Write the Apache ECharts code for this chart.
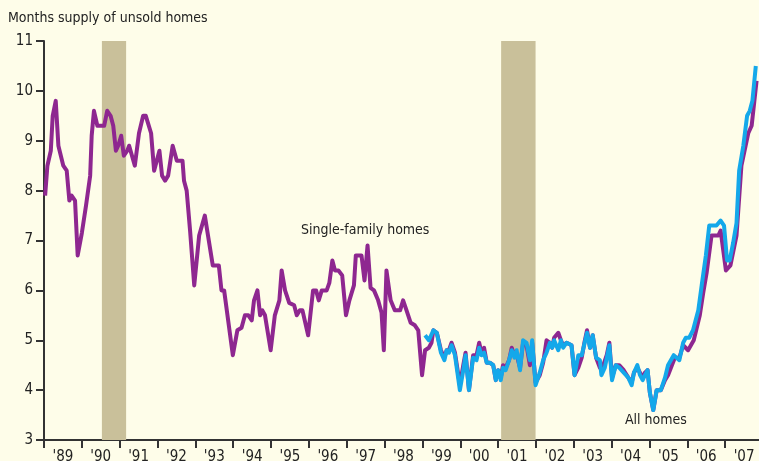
<!DOCTYPE html>
<html><head><meta charset="utf-8">
<script src="https://cdn.jsdelivr.net/npm/echarts@6/dist/echarts.min.js"></script>
<style>html,body{margin:0;padding:0;background:#fefde9;}#c{width:759px;height:461px;}</style>
</head><body><div id="c"></div>
<script>
const yearLabels = ["'89","'90","'91","'92","'93","'94","'95","'96","'97","'98","'99","'00","'01","'02","'03","'04","'05","'06","'07"];
const yTicks = [3,4,5,6,7,8,9,10,11];
const recessions = [[1990.53, 1991.17], [2001.08, 2001.99]];

const sfYears = [1989.03,1989.09,1989.18,1989.23,1989.31,1989.38,1989.51,1989.60,1989.67,1989.73,1989.82,1989.89,1990.00,1990.11,1990.22,1990.26,1990.32,1990.41,1990.59,1990.67,1990.76,1990.83,1990.90,1990.96,1991.04,1991.11,1991.20,1991.25,1991.40,1991.51,1991.62,1991.69,1991.83,1991.91,1991.98,1992.05,1992.12,1992.20,1992.28,1992.40,1992.51,1992.59,1992.66,1992.70,1992.77,1992.86,1992.97,1993.10,1993.25,1993.46,1993.62,1993.69,1993.76,1993.99,1994.11,1994.22,1994.31,1994.40,1994.49,1994.55,1994.64,1994.71,1994.77,1994.84,1994.99,1995.10,1995.22,1995.28,1995.37,1995.48,1995.61,1995.68,1995.76,1995.83,1995.98,1996.11,1996.19,1996.26,1996.34,1996.47,1996.54,1996.62,1996.69,1996.78,1996.88,1996.98,1997.07,1997.19,1997.24,1997.39,1997.47,1997.55,1997.63,1997.72,1997.83,1997.92,1997.98,1998.05,1998.16,1998.27,1998.41,1998.49,1998.58,1998.69,1998.80,1998.89,1998.99,1999.07,1999.17,1999.24,1999.29,1999.38,1999.49,1999.58,1999.64,1999.70,1999.77,1999.86,1999.99,2000.08,2000.14,2000.23,2000.34,2000.43,2000.50,2000.56,2000.63,2000.70,2000.78,2000.87,2000.94,2001.00,2001.07,2001.13,2001.20,2001.29,2001.36,2001.43,2001.49,2001.58,2001.66,2001.75,2001.84,2001.90,2001.99,2002.10,2002.19,2002.28,2002.37,2002.43,2002.48,2002.59,2002.66,2002.72,2002.81,2002.94,2003.02,2003.12,2003.21,2003.28,2003.35,2003.43,2003.50,2003.59,2003.69,2003.78,2003.87,2003.94,2004.01,2004.11,2004.20,2004.32,2004.44,2004.53,2004.59,2004.68,2004.75,2004.82,2004.88,2004.95,2005.01,2005.10,2005.19,2005.30,2005.41,2005.49,2005.67,2005.79,2005.89,2006.02,2006.17,2006.33,2006.42,2006.51,2006.64,2006.82,2006.88,2007.02,2007.14,2007.30,2007.43,2007.61,2007.70,2007.83];
const sfValues = [7.9,8.5,8.8,9.5,9.8,8.9,8.5,8.4,7.8,7.9,7.8,6.7,7.15,7.7,8.3,9.1,9.6,9.3,9.3,9.6,9.5,9.3,8.8,8.9,9.1,8.7,8.8,8.9,8.5,9.15,9.5,9.5,9.15,8.4,8.6,8.8,8.3,8.2,8.3,8.9,8.6,8.6,8.6,8.2,8.0,7.2,6.1,7.1,7.5,6.5,6.5,6.0,6.0,4.7,5.2,5.25,5.5,5.5,5.4,5.8,6.0,5.5,5.6,5.5,4.8,5.5,5.8,6.4,6.0,5.75,5.7,5.5,5.6,5.6,5.1,6.0,6.0,5.8,6.0,6.0,6.15,6.6,6.4,6.4,6.3,5.5,5.8,6.1,6.7,6.7,6.2,6.9,6.05,6.0,5.8,5.55,4.8,6.4,5.8,5.6,5.6,5.8,5.6,5.35,5.3,5.2,4.3,4.8,4.85,4.95,5.2,5.15,4.8,4.65,4.8,4.8,4.95,4.75,4.1,4.5,4.75,4.0,4.7,4.7,4.95,4.75,4.85,4.55,4.55,4.5,4.2,4.4,4.25,4.5,4.45,4.6,4.85,4.7,4.7,4.45,4.95,4.9,4.5,4.95,4.15,4.3,4.55,5.0,4.95,4.85,5.05,5.15,5.0,4.9,4.95,4.9,4.3,4.45,4.65,4.95,5.2,4.85,5.1,4.65,4.45,4.5,4.7,4.95,4.25,4.5,4.5,4.4,4.25,4.15,4.35,4.45,4.35,4.25,4.35,4.4,3.95,3.6,4.0,4.0,4.2,4.3,4.65,4.65,4.9,4.8,5.0,5.5,5.95,6.35,7.1,7.1,7.2,6.4,6.5,7.1,8.5,9.15,9.3,10.2];

const allYears = [1999.07,1999.17,1999.29,1999.38,1999.49,1999.58,1999.64,1999.70,1999.77,1999.86,1999.99,2000.08,2000.14,2000.23,2000.34,2000.43,2000.50,2000.56,2000.63,2000.70,2000.78,2000.87,2000.94,2001.00,2001.07,2001.13,2001.20,2001.29,2001.36,2001.43,2001.49,2001.58,2001.66,2001.75,2001.84,2001.90,2001.99,2002.10,2002.19,2002.28,2002.37,2002.43,2002.48,2002.59,2002.66,2002.72,2002.81,2002.94,2003.02,2003.12,2003.21,2003.35,2003.43,2003.50,2003.59,2003.69,2003.73,2003.82,2003.94,2004.01,2004.11,2004.20,2004.32,2004.44,2004.53,2004.59,2004.68,2004.75,2004.82,2004.88,2004.95,2005.01,2005.10,2005.19,2005.30,2005.41,2005.49,2005.64,2005.79,2005.89,2005.96,2006.05,2006.15,2006.29,2006.38,2006.49,2006.58,2006.77,2006.88,2006.97,2007.05,2007.12,2007.21,2007.30,2007.37,2007.48,2007.58,2007.65,2007.72,2007.81];
const allValues = [5.1,5.0,5.2,5.15,4.75,4.6,4.8,4.75,4.9,4.7,4.0,4.4,4.7,4.0,4.65,4.6,4.85,4.7,4.75,4.55,4.55,4.5,4.2,4.4,4.2,4.45,4.4,4.6,4.8,4.65,4.8,4.4,5.0,4.95,4.6,5.0,4.1,4.35,4.6,4.75,4.95,4.85,5.0,4.8,5.0,4.85,4.95,4.9,4.3,4.7,4.7,5.15,4.85,5.1,4.65,4.6,4.3,4.45,4.9,4.2,4.5,4.45,4.35,4.25,4.1,4.35,4.5,4.3,4.2,4.3,4.4,3.95,3.6,4.0,4.0,4.25,4.5,4.7,4.6,4.95,5.05,5.05,5.2,5.6,6.1,6.7,7.3,7.3,7.4,7.3,6.6,6.6,6.95,7.35,8.4,8.9,9.5,9.6,9.8,10.5];

const FONT = '"Liberation Sans Narrow","DejaVu Sans Condensed","Liberation Sans",sans-serif';
const chart = echarts.init(document.getElementById('c'), null, {renderer: 'canvas'});
chart.setOption({
  backgroundColor: '#fefde9',
  animation: false,
  grid: {left: 44, right: -4, top: 41, bottom: 21, containLabel: false, outerBoundsMode: 'none'},
  xAxis: [{
    type: 'value', min: 1989, max: 2008, interval: 1,
    axisLine: {show: true, lineStyle: {color: '#333', width: 2}},
    axisTick: {show: true, length: 8, lineStyle: {color: '#333', width: 2}},
    axisLabel: {show: false},
    splitLine: {show: false}
  }, {
    type: 'category', data: yearLabels, boundaryGap: true, position: 'bottom',
    axisLine: {show: false}, axisTick: {show: false},
    axisLabel: {show: true, margin: 10, color: '#222', fontSize: 15, fontFamily: FONT}
  }],
  yAxis: {
    type: 'value', min: yTicks[0], max: yTicks[yTicks.length-1], interval: 1,
    axisLine: {show: true, lineStyle: {color: '#333', width: 2}},
    axisTick: {show: true, length: 8, lineStyle: {color: '#333', width: 2}},
    axisLabel: {margin: 11, color: '#222', fontSize: 15, fontFamily: FONT},
    splitLine: {show: false}
  },
  graphic: [
    {type: 'text', left: 8, top: 11, style: {text: 'Months supply of unsold homes', fill: '#222', font: '14px ' + FONT}},
    {type: 'text', left: 301, top: 223, style: {text: 'Single-family homes', fill: '#222', font: '14px ' + FONT}},
    {type: 'text', left: 625, top: 413, style: {text: 'All homes', fill: '#222', font: '14px ' + FONT}}
  ],
  series: [{
    type: 'line', xAxisIndex: 0, showSymbol: false, silent: true,
    data: sfYears.map((x, i) => [x, sfValues[i]]),
    lineStyle: {color: '#8e2790', width: 4, join: 'round'},
    itemStyle: {color: '#8e2790'},
    z: 2,
    markArea: {silent: true, itemStyle: {color: '#c9c09a'}, z: 1,
      data: recessions.map(r => [{xAxis: r[0]}, {xAxis: r[1]}])}
  }, {
    type: 'line', xAxisIndex: 0, showSymbol: false, silent: true,
    data: allYears.map((x, i) => [x, allValues[i]]),
    lineStyle: {color: '#14a8ea', width: 4, join: 'round'},
    itemStyle: {color: '#14a8ea'},
    z: 3
  }]
});
</script></body></html>
